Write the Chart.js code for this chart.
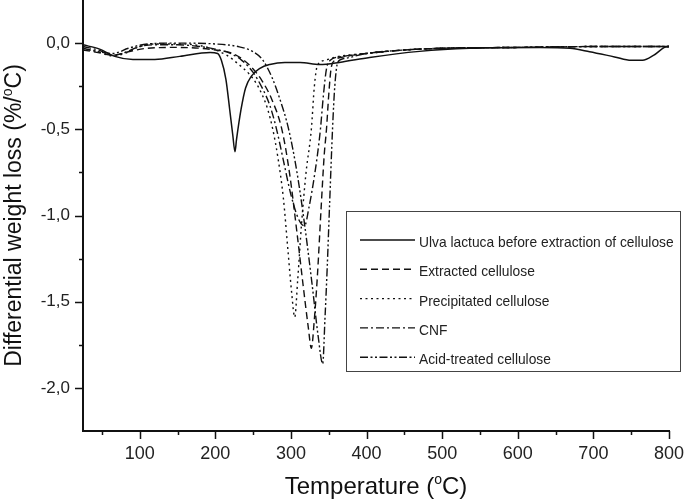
<!DOCTYPE html>
<html>
<head>
<meta charset="utf-8">
<script src="https://cdn.jsdelivr.net/npm/chart.js@4.4.1/dist/chart.umd.min.js"></script>
<style>
  body { margin: 0; background: #fff; }
  #dtg { display: block; }
</style>
</head>
<body>
<canvas id="dtg" width="685" height="500"></canvas>
<script>
// DTG curves, temperature in °C and differential weight loss in %/°C
const ulvaTemp = [25, 47, 67, 91, 120, 153, 193, 203, 208, 214, 219, 223, 226, 228, 234, 240, 248, 259, 272, 292, 312, 338, 364, 404, 470, 536, 629, 669, 695, 728, 750, 765, 780, 794, 800];
const ulvaDtg = [-0.01, -0.035, -0.077, -0.095, -0.095, -0.077, -0.054, -0.06, -0.1, -0.21, -0.385, -0.53, -0.63, -0.56, -0.385, -0.26, -0.19, -0.146, -0.124, -0.112, -0.112, -0.124, -0.112, -0.083, -0.048, -0.03, -0.025, -0.03, -0.05, -0.08, -0.1, -0.1, -0.07, -0.025, -0.02];

const extractedTemp = [25, 45, 65, 85, 110, 150, 180, 200, 220, 235, 250, 262, 275, 288, 298, 308, 316, 323, 327, 331, 335, 340, 344, 347, 350, 353, 358, 370, 400, 450, 500, 600, 700, 800];
const extractedDtg = [-0.04, -0.055, -0.07, -0.05, -0.03, -0.025, -0.03, -0.04, -0.055, -0.09, -0.15, -0.22, -0.33, -0.5, -0.75, -1.1, -1.4, -1.65, -1.77, -1.6, -1.35, -0.95, -0.65, -0.5, -0.3, -0.15, -0.1, -0.08, -0.06, -0.04, -0.03, -0.025, -0.02, -0.02];

const precipTemp = [25, 45, 65, 80, 100, 120, 150, 180, 200, 215, 230, 245, 255, 262, 269, 276, 283, 290, 296, 301, 305, 309, 314, 320, 327, 331, 335, 345, 360, 400, 450, 500, 600, 700, 800];
const precipDtg = [-0.03, -0.05, -0.075, -0.06, -0.02, -0.005, -0.005, -0.015, -0.04, -0.07, -0.12, -0.18, -0.24, -0.3, -0.38, -0.5, -0.67, -0.9, -1.2, -1.45, -1.59, -1.37, -1.05, -0.75, -0.5, -0.25, -0.13, -0.1, -0.08, -0.06, -0.04, -0.03, -0.025, -0.02, -0.02];

const cnfTemp = [25, 45, 65, 80, 100, 120, 150, 180, 200, 220, 235, 250, 262, 272, 281, 290, 300, 310, 318, 324, 330, 335, 339, 343, 347, 352, 365, 400, 450, 500, 600, 700, 800];
const cnfDtg = [-0.02, -0.04, -0.07, -0.055, -0.02, -0.01, -0.01, -0.02, -0.035, -0.06, -0.1, -0.17, -0.26, -0.36, -0.5, -0.68, -0.88, -1.02, -1.06, -0.95, -0.8, -0.65, -0.5, -0.3, -0.15, -0.1, -0.08, -0.06, -0.04, -0.03, -0.025, -0.02, -0.02];

const acidTemp = [25, 45, 65, 85, 110, 150, 200, 230, 250, 263, 275, 285, 297, 308, 318, 328, 336, 342, 345, 348, 351, 355, 358, 362, 370, 400, 450, 500, 600, 700, 800];
const acidDtg = [-0.03, -0.05, -0.06, -0.03, -0.005, 0, -0.005, -0.02, -0.05, -0.1, -0.2, -0.32, -0.5, -0.75, -1.05, -1.4, -1.7, -1.86, -1.6, -1.3, -0.95, -0.5, -0.25, -0.11, -0.09, -0.06, -0.04, -0.03, -0.025, -0.02, -0.02];

const seriesLabels = ['Ulva lactuca before extraction of cellulose', 'Extracted cellulose', 'Precipitated cellulose', 'CNF', 'Acid-treated cellulose'];

const xMajorTicks = [100, 200, 300, 400, 500, 600, 700, 800];
const xMinorTicks = [50, 150, 250, 350, 450, 550, 650, 750];
const yMajorTicks = [0, -0.5, -1, -1.5, -2];
const yMinorTicks = [-0.25, -0.75, -1.25, -1.75];

const FONT = '"Liberation Sans", Arial, sans-serif';

function pts(t, v) {
  return t.map((x, i) => ({ x: x, y: v[i] }));
}

function makeSet(label, t, v, dash, width) {
  return {
    label: label,
    data: pts(t, v),
    borderColor: '#111',
    borderWidth: width,
    borderDash: dash,
    pointRadius: 0,
    fill: false,
    cubicInterpolationMode: 'monotone'
  };
}

const datasets = [
  makeSet(seriesLabels[0], ulvaTemp, ulvaDtg, [], 1.5),
  makeSet(seriesLabels[1], extractedTemp, extractedDtg, [7, 4], 1.4),
  makeSet(seriesLabels[2], precipTemp, precipDtg, [2, 3.5], 1.4),
  makeSet(seriesLabels[3], cnfTemp, cnfDtg, [8, 3, 2, 3], 1.4),
  makeSet(seriesLabels[4], acidTemp, acidDtg, [8, 2.5, 2, 2.5, 2, 2.5], 1.4)
];

// ticks, axis titles and framed legend drawn on top of the library scales
const extras = {
  id: 'extras',
  afterDraw(chart) {
    const c = chart.ctx;
    const area = chart.chartArea;
    const xs = chart.scales.x, ys = chart.scales.y;
    c.save();
    c.strokeStyle = '#111';
    c.lineWidth = 1.5;
    c.beginPath();
    xMajorTicks.concat(xMinorTicks).forEach(v => {
      const px = Math.round(xs.getPixelForValue(v)) + 0.5;
      const len = xMajorTicks.includes(v) ? 8 : 4;
      c.moveTo(px, area.bottom); c.lineTo(px, area.bottom + len);
    });
    yMajorTicks.concat(yMinorTicks).forEach(v => {
      const py = Math.round(ys.getPixelForValue(v)) + 0.5;
      const len = yMajorTicks.includes(v) ? 8 : 4;
      c.moveTo(area.left, py); c.lineTo(area.left - len, py);
    });
    c.stroke();

    // axis titles with superscript o
    c.fillStyle = '#111';
    c.textBaseline = 'alphabetic';
    const drawTitle = (pre, post, cx, cy, rot, size) => {
      const sup = Math.round(size * 0.6);
      c.save();
      c.translate(cx, cy);
      c.rotate(rot);
      c.font = size + 'px ' + FONT;
      const w1 = c.measureText(pre).width;
      const w3 = c.measureText(post).width;
      c.font = sup + 'px ' + FONT;
      const w2 = c.measureText('o').width;
      let x = -(w1 + w2 + w3) / 2;
      c.font = size + 'px ' + FONT;
      c.textAlign = 'left';
      c.fillText(pre, x, 0);
      c.font = sup + 'px ' + FONT;
      c.fillText('o', x + w1, -size * 0.4);
      c.font = size + 'px ' + FONT;
      c.fillText(post, x + w1 + w2, 0);
      c.restore();
    };
    drawTitle('Temperature (', 'C)', (area.left + area.right) / 2, 494, 0, 24);
    drawTitle('Differential weight loss (%/', 'C)', 21, (area.top + area.bottom) / 2, -Math.PI / 2, 23);

    // legend box
    const bx = 346.5, by = 211.5, bw = 334, bh = 160;
    c.fillStyle = '#fff';
    c.fillRect(bx, by, bw, bh);
    c.strokeStyle = '#444';
    c.lineWidth = 1;
    c.strokeRect(bx, by, bw, bh);
    chart.data.datasets.forEach((ds, i) => {
      const ry = 243 + i * 29.3;
      c.strokeStyle = '#111';
      c.lineWidth = ds.borderWidth;
      c.setLineDash(ds.borderDash);
      c.beginPath();
      c.moveTo(360, ry - 3);
      c.lineTo(415, ry - 3);
      c.stroke();
      c.setLineDash([]);
      // text slightly condensed like the scanned figure
      c.save();
      c.translate(419, ry);
      c.scale(0.92, 1);
      c.font = '15px ' + FONT;
      c.textAlign = 'left';
      c.textBaseline = 'middle';
      c.fillStyle = '#222';
      c.fillText(ds.label, 0, 0);
      c.restore();
    });
    c.restore();
  }
};

const ctx = document.getElementById('dtg').getContext('2d');
const dtgChart = new Chart(ctx, {
  type: 'line',
  data: { datasets: datasets },
  options: {
    responsive: false,
    animation: false,
    layout: { padding: { left: 0, right: 16, top: 0, bottom: 0 } },
    plugins: { legend: { display: false }, tooltip: { enabled: false } },
    scales: {
      x: {
        type: 'linear',
        min: 25,
        max: 800,
        afterBuildTicks: s => { s.ticks = xMinorTicks.concat(xMajorTicks).sort((a, b) => a - b).map(v => ({ value: v })); },
        afterFit: s => { s.height = 69; s.paddingLeft = 0; s.paddingRight = 0; },
        grid: { drawOnChartArea: false, color: 'rgba(0,0,0,0)', tickLength: 8 },
        border: { display: true, color: '#111', width: 2 },
        ticks: {
          autoSkip: false, maxRotation: 0, padding: 4, color: '#222',
          font: { family: FONT, size: 18 },
          callback: v => xMajorTicks.includes(v) ? String(v) : ''
        }
      },
      y: {
        min: -2.25,
        max: 0.25,
        afterBuildTicks: s => { s.ticks = yMajorTicks.concat(yMinorTicks).sort((a, b) => a - b).map(v => ({ value: v })); },
        afterFit: s => { s.width = 83; s.paddingTop = 0; s.paddingBottom = 0; },
        grid: { drawOnChartArea: false, color: 'rgba(0,0,0,0)', tickLength: 8 },
        border: { display: true, color: '#111', width: 2 },
        ticks: {
          autoSkip: false, padding: 5, color: '#222',
          font: { family: FONT, size: 17 },
          callback: v => yMajorTicks.includes(v) ? v.toFixed(1).replace('.', ',') : ''
        }
      }
    }
  },
  plugins: [extras]
});
</script>
</body>
</html>
